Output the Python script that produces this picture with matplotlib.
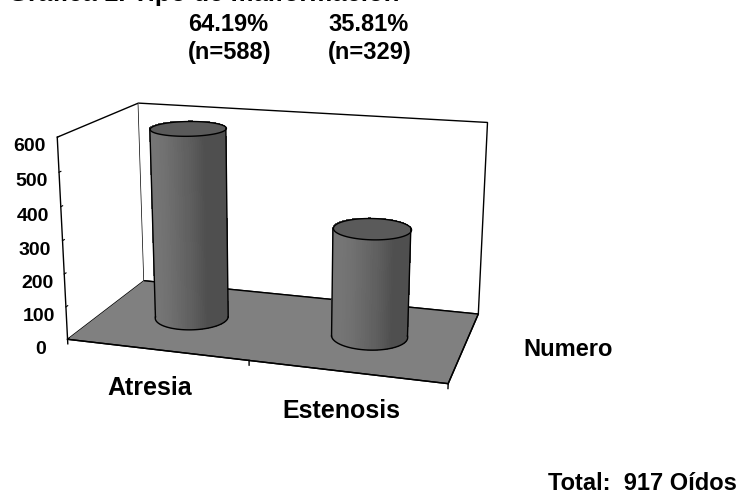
import numpy as np
import matplotlib
matplotlib.use("Agg")
import matplotlib.pyplot as plt
from mpl_toolkits.mplot3d.art3d import Poly3DCollection

# --- data -----------------------------------------------------------------
categories = ["Atresia", "Estenosis"]
counts = [588, 329]
percent_labels = ["64.19%", "35.81%"]
series_name = "Numero"
value_ticks = [0, 100, 200, 300, 400, 500, 600]
title_text = "Gráfica 1. Tipo de malformación"
total_text = "Total:  917 Oídos"

plt.rcParams["font.family"] = ["Liberation Sans", "DejaVu Sans"]
plt.rcParams["font.weight"] = "bold"

W, H = 748, 495
fig = plt.figure(figsize=(W / 100, H / 100), dpi=100)

# square 3D axes centred on the chart box
side = 500
cx_px, cy_px = 272, 237
ax = fig.add_axes([(cx_px - side / 2) / W, (H - cy_px - side / 2) / H,
                   side / W, side / H], projection="3d")
ELEV, AZIM = 16.0, -73.0
BOX = (1.97, 1.0, 1.06)
ax.set_proj_type("persp", focal_length=0.45)
ax.view_init(elev=ELEV, azim=AZIM)
ax.set_box_aspect(BOX, zoom=0.918)
ax.computed_zorder = False

n_cat = len(categories)
ax.set_xlim(0, n_cat)
ax.set_ylim(0, 1)
ax.set_zlim(value_ticks[0], value_ticks[-1])
ax.grid(False)

# walls white, floor gray, black outlines
ax.xaxis.set_pane_color((1, 1, 1, 1))
ax.yaxis.set_pane_color((1, 1, 1, 1))
ax.zaxis.set_pane_color((0.5, 0.5, 0.5, 1))
for a in (ax.xaxis, ax.yaxis, ax.zaxis):
    a.pane.set_edgecolor("black")
    a.pane.set_linewidth(1.0)
    a.line.set_color("black")
    a.line.set_linewidth(1.0)

ax.set_xticks([i + 0.5 for i in range(n_cat)])
ax.set_xticklabels(categories, fontsize=18)
ax.tick_params(axis="x", pad=10)
ax.set_yticks([])
ax.set_zticks(value_ticks)
ax.set_zticklabels([str(v) for v in value_ticks], fontsize=14)
ax.zaxis.set_ticks_position("lower")
for a in (ax.xaxis, ax.yaxis):
    a._axinfo["tick"]["inward_factor"] = 0.0
    a._axinfo["tick"]["outward_factor"] = 0.0
ax.zaxis._axinfo["tick"]["inward_factor"] = 0.0
ax.zaxis._axinfo["tick"]["outward_factor"] = 0.25

# series name beside the right edge of the floor
ax.text(n_cat + 0.3, 0.5, 10, series_name, fontsize=17, ha="left",
        va="center")

# category boundary ticks under the front edge
for xb in range(n_cat + 1):
    ax.plot([xb, xb], [0, 0], [0, -14], color="black", lw=1, zorder=1)

# --- cylinders ------------------------------------------------------------
azim = np.deg2rad(AZIM)
rx = 0.2
ry = rx * (BOX[0] / n_cat) / BOX[1]
theta = np.linspace(0, 2 * np.pi, 121)
th_light = np.deg2rad(-135)
for i, val in enumerate(counts):
    cxv, cyv = i + 0.5, 0.5
    X = np.vstack([cxv + rx * np.cos(theta)] * 2)
    Y = np.vstack([cyv + ry * np.sin(theta)] * 2)
    Z = np.vstack([np.zeros_like(theta), np.full_like(theta, val)])
    mid = 0.5 * (theta[:-1] + theta[1:])
    b = 0.31 + 0.15 * np.clip(np.cos(mid - th_light), 0, None)
    fc = np.zeros((1, len(mid), 4))
    fc[0, :, 0] = fc[0, :, 1] = fc[0, :, 2] = b
    fc[0, :, 3] = 1
    ax.plot_surface(X, Y, Z, facecolors=fc, shade=False, linewidth=0,
                    antialiased=False, rstride=1, cstride=1, zorder=3)
    top = list(zip(cxv + rx * np.cos(theta), cyv + ry * np.sin(theta),
                   np.full_like(theta, val)))
    cap = Poly3DCollection([top], facecolor="#5a5a5a", edgecolor="black",
                           linewidth=1.0, zorder=4)
    ax.add_collection3d(cap)
    # silhouette lines and front half of the base
    for th in (azim - np.pi / 2, azim + np.pi / 2):
        ax.plot([cxv + rx * np.cos(th)] * 2, [cyv + ry * np.sin(th)] * 2,
                [0, val], color="black", lw=1.0, zorder=5)
    tb = np.linspace(azim - np.pi / 2, azim + np.pi / 2, 61)
    ax.plot(cxv + rx * np.cos(tb), cyv + ry * np.sin(tb), np.zeros_like(tb),
            color="black", lw=1.0, zorder=5)

# --- annotations ----------------------------------------------------------
fig.text(8 / W, 1 - 1 / H, title_text, fontsize=18.5, ha="left", va="baseline")
label_x = [188, 328]
for lx, pct, n in zip(label_x, percent_labels, counts):
    fig.text(lx / W, 1 - 31 / H, pct, fontsize=17, ha="left", va="baseline")
    fig.text(lx / W, 1 - 59 / H, f"(n={n})", fontsize=17, ha="left",
             va="baseline")
fig.text(548 / W, 1 - 490 / H, total_text, fontsize=17, ha="left",
         va="baseline")

fig.savefig("out.png", dpi=100)
